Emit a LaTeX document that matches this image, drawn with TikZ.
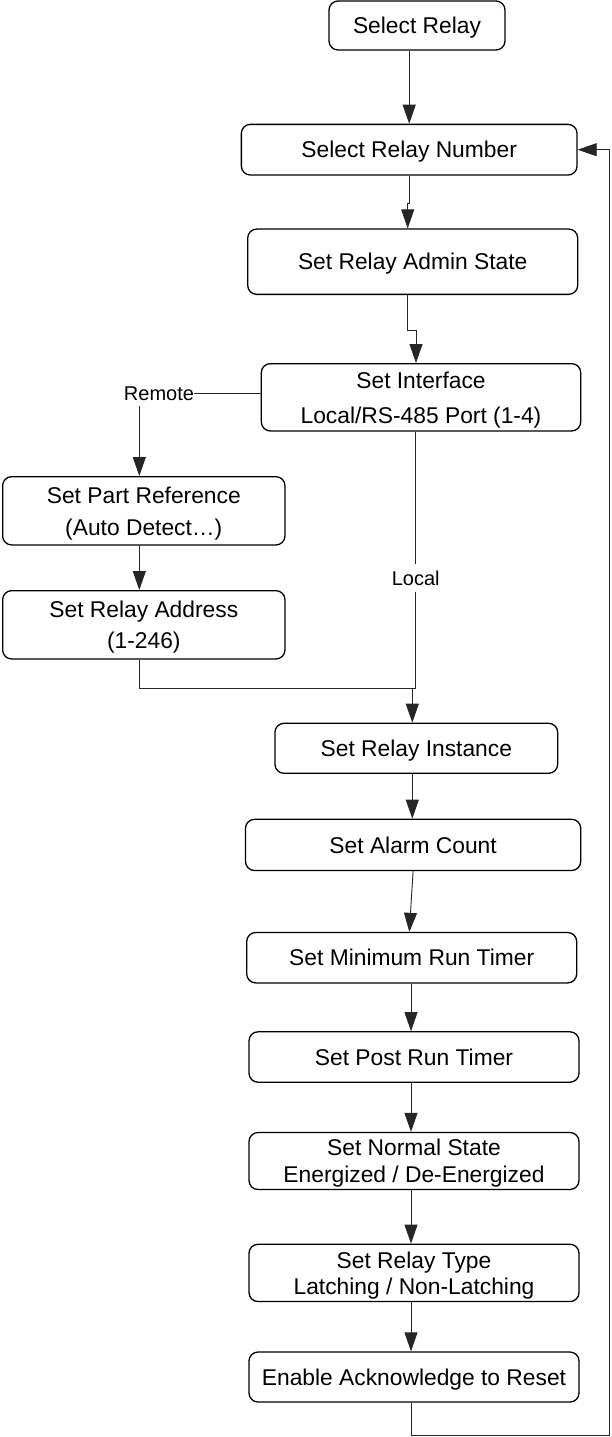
\documentclass[tikz,border=0pt]{standalone}
\usepackage{fontspec}
\setmainfont{Liberation Sans}
\usetikzlibrary{arrows.meta}
\begin{document}
\begin{tikzpicture}[x=1pt,y=-1pt,
  stepbox/.style={draw, line width=1.3pt, rounded corners=9pt, inner sep=0pt,
    align=center, text depth=0pt, font=\fontsize{22.8}{26}\selectfont},
  conn/.style={line width=0.9pt, draw=black!85},
  arr/.style={conn, -{Triangle[length=19pt,width=13pt]}},
  lbl/.style={font=\fontsize{20}{24}\selectfont, inner xsep=0pt},
]
\useasboundingbox (0,0) rectangle (611,1437);

% process steps
\node[stepbox, minimum width=176pt,   minimum height=49pt]   (sr)     at (417,25.5)    {Select Relay};
\node[stepbox, minimum width=335.7pt, minimum height=50.7pt] (srn)    at (409.2,149.7) {Select Relay Number};
\node[stepbox, minimum width=330pt,   minimum height=65.3pt] (adm)    at (412.7,261.7) {Set Relay Admin State};
\node[stepbox, minimum width=319.4pt, minimum height=67.3pt] (intf)   at (421,397.3)   {Set Interface\\[9pt]Local/RS-485 Port (1-4)};
\node[stepbox, minimum width=282.3pt, minimum height=68.3pt] (part)   at (143.8,510.8) {Set Part Reference\\[6pt](Auto Detect\ldots)};
\node[stepbox, minimum width=282.3pt, minimum height=68.3pt] (addr)   at (143.8,624.8) {Set Relay Address\\[5pt](1-246)};
\node[stepbox, minimum width=282.7pt, minimum height=50pt]   (inst)   at (416.3,748.3) {Set Relay Instance};
\node[stepbox, minimum width=335.2pt, minimum height=51.2pt] (alarm)  at (413.1,844.9) {Set Alarm Count};
\node[stepbox, minimum width=330pt,   minimum height=50.4pt] (minrun) at (411.7,957.7) {Set Minimum Run Timer};
\node[stepbox, minimum width=330pt,   minimum height=50.4pt] (post)   at (414,1057)    {Set Post Run Timer};
\node[stepbox, minimum width=330pt,   minimum height=57pt]   (normal) at (414,1161)    {Set Normal State\\[1.4pt]Energized / De-Energized};
\node[stepbox, minimum width=330pt,   minimum height=57.3pt] (rtype)  at (414,1272.9)  {Set Relay Type\\Latching / Non-Latching};
\node[stepbox, minimum width=330pt,   minimum height=50pt]   (enable) at (414,1377)    {Enable Acknowledge to Reset};

% branch labels
\node[lbl, inner ysep=0pt] (remote) at (159,393.3) {Remote};
\node[lbl, inner ysep=6pt] (local)  at (415.7,578) {Local};

% routing points
\coordinate (rdrop) at (139.3,406);
\coordinate (merge) at (415.7,688.5);
\coordinate (instin) at ([xshift=-4pt]inst.north);
\coordinate (instout) at ([xshift=-4pt]inst.south);
\coordinate (runin) at ([xshift=-2.4pt]minrun.north);
\coordinate (colx) at (411,0);
\coordinate (loopc) at (609.5,1435.5);

% main chain
\draw[arr] (sr.south -| srn.north) -- (srn.north);
\draw[arr] (srn.south) -- ++(0,27.5) -| ([xshift=-5pt]adm.north);
\draw[arr] ([xshift=-5pt]adm.south) -- ++(0,35.7) -| ([xshift=-5pt]intf.north);

% remote branch
\draw[conn] (remote.east) -- (remote.east -| intf.west);
\draw[arr] (rdrop) -- (rdrop |- part.north);
\draw[arr] (rdrop |- part.south) -- (rdrop |- addr.north);
\draw[conn] (rdrop |- addr.south) |- (merge);

% local branch
\draw[conn] (local.north |- intf.south) -- (local.north);
\draw[conn] (local.south) -- (merge);

% lower chain
\draw[arr] (instin |- merge) -- (instin);
\draw[arr] (instout) -- (instout |- alarm.north);
\draw[arr] (alarm.south) -- (runin);
\draw[arr] (colx |- minrun.south) -- (colx |- post.north);
\draw[arr] (colx |- post.south) -- (colx |- normal.north);
\draw[arr] (colx |- normal.south) -- (colx |- rtype.north);
\draw[arr] (colx |- rtype.south) -- (colx |- enable.north);

% return loop
\draw[arr] (colx |- enable.south) |- (loopc) -- (loopc |- srn.east) -- (srn.east);
\end{tikzpicture}
\end{document}
